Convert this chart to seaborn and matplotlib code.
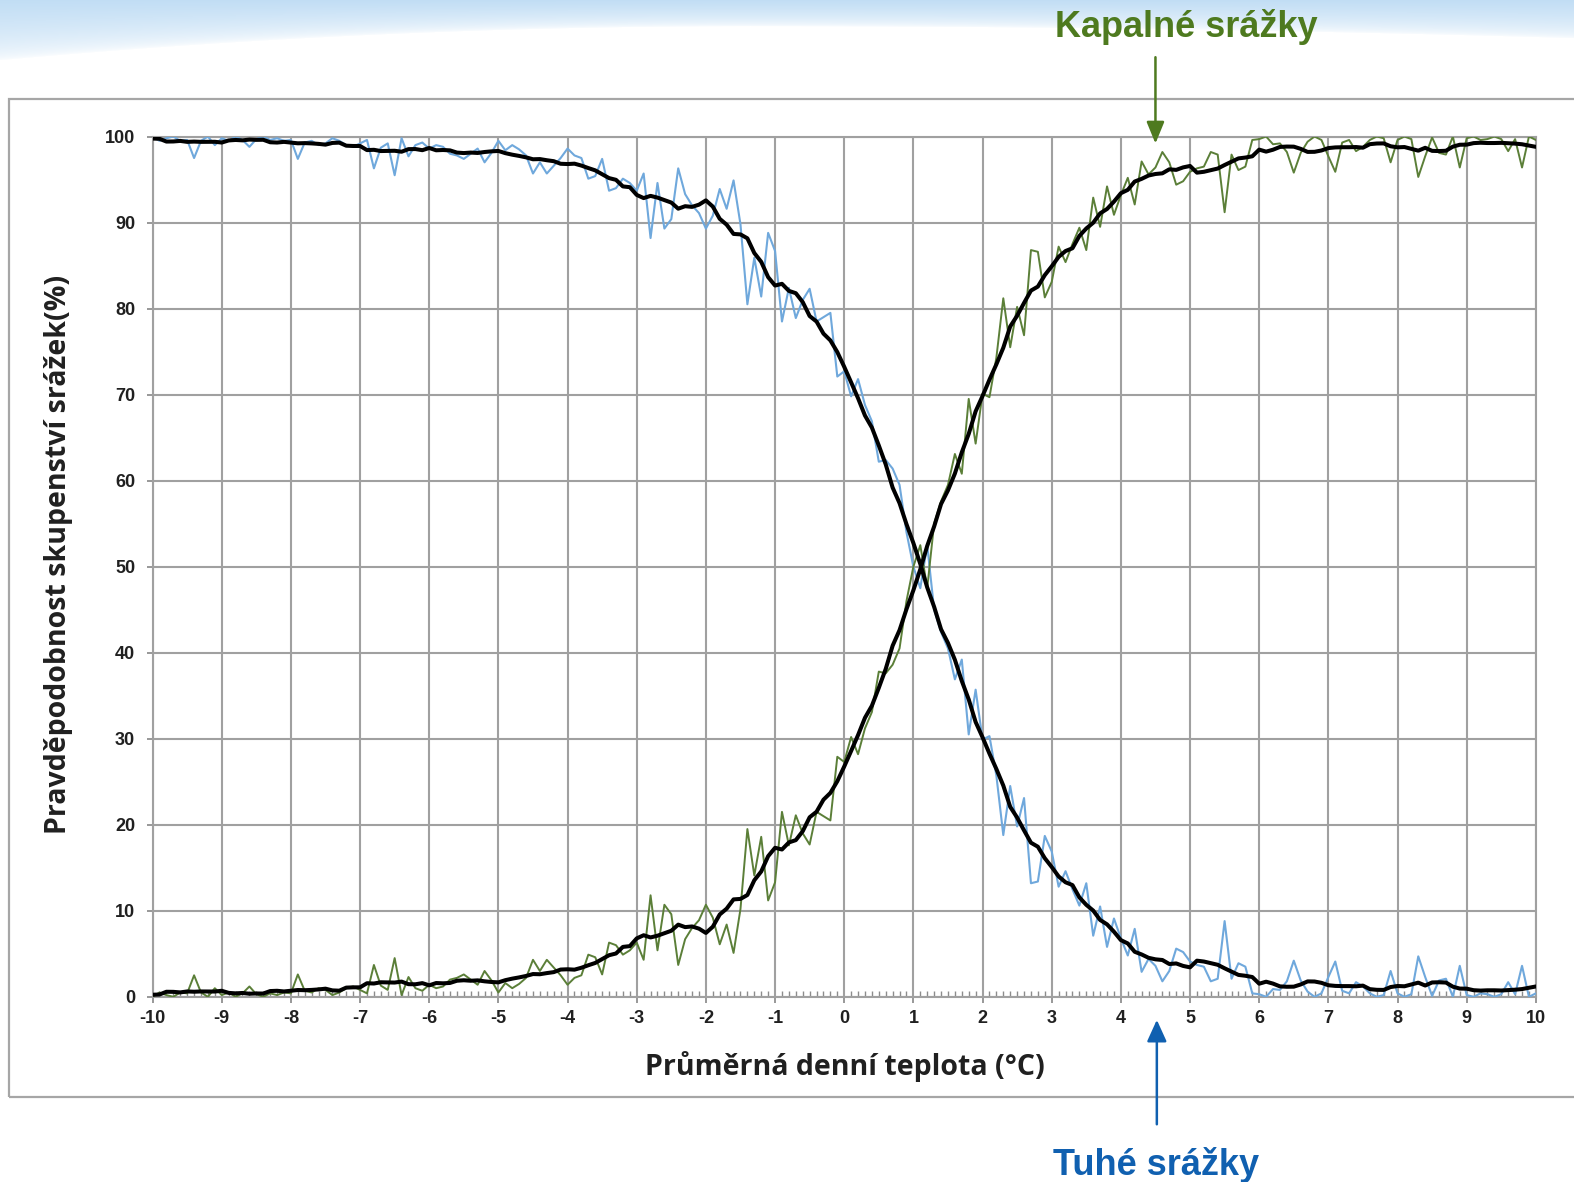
import numpy as np
import pandas as pd
import matplotlib
matplotlib.use('Agg')
import matplotlib.pyplot as plt
import seaborn as sns
from matplotlib.patches import Rectangle
from matplotlib.ticker import MultipleLocator

# teplota po 0.1 °C
teploty = np.round(np.arange(-10, 10.05, 0.1), 1)

# pravdepodobnost tuhych srazek (%)
tuhe = [
    100, 99.5, 99.8, 100, 99.5, 99.6, 97.5, 99.5, 100, 99.0,
    99.8, 99.5, 100, 99.6, 98.8, 99.7, 100, 99.6, 99.8, 99.5,
    99.6, 97.4, 99.3, 99.5, 99.0, 99.2, 99.8, 99.5, 99.0, 98.8,
    99.2, 99.6, 96.3, 98.7, 99.2, 95.5, 99.8, 97.7, 99.0, 99.3,
    98.6, 99.0, 98.8, 98.0, 97.8, 97.4, 98.0, 98.6, 97.0, 98.1,
    99.5, 98.4, 99.0, 98.5, 97.8, 95.7, 97.0, 95.7, 96.6, 97.5,
    98.6, 97.8, 97.5, 95.1, 95.4, 97.4, 93.7, 94.0, 95.1, 94.6,
    93.7, 95.7, 88.2, 94.6, 89.3, 90.4, 96.3, 93.3, 92.0, 91.1,
    89.3, 90.8, 93.9, 91.6, 94.9, 89.8, 80.5, 85.9, 81.4, 88.8,
    86.7, 78.5, 82.4, 78.9, 81.0, 82.3, 78.5, 79.0, 79.5, 72.1,
    72.7, 69.8, 71.8, 68.8, 66.9, 62.2, 62.4, 61.4, 59.5, 54.0,
    50.0, 47.5, 52.5, 45.0, 42.4, 40.5, 36.9, 39.2, 30.5, 35.7,
    29.9, 30.3, 25.7, 18.8, 24.5, 19.8, 23.1, 13.2, 13.4, 18.7,
    16.9, 12.8, 14.6, 12.5, 10.6, 13.2, 7.1, 10.5, 5.8, 9.1,
    6.8, 4.8, 7.9, 2.9, 4.4, 3.6, 1.8, 3.0, 5.6, 5.2,
    4.1, 3.7, 3.5, 1.8, 2.1, 8.8, 2.1, 3.9, 3.5, 0.4,
    0.3, 0.0, 0.9, 0.8, 1.8, 4.2, 1.9, 0.6, 0.0, 0.4,
    2.3, 4.1, 0.7, 0.4, 1.7, 1.2, 0.4, 0.0, 0.2, 3.0,
    0.4, 0.0, 0.3, 4.7, 2.3, 0.1, 1.9, 2.1, 0.0, 3.6,
    0.2, 0.0, 0.4, 0.3, 0.0, 0.3, 1.7, 0.3, 3.6, 0.0,
    0.4,
]
# kapalne srazky jsou doplnek do 100 %
kapalne = [100 - v for v in tuhe]

df = pd.DataFrame({'teplota': teploty, 'tuhe': tuhe, 'kapalne': kapalne})
df['tuhe_prum'] = df['tuhe'].rolling(9, center=True, min_periods=1).mean()
df['kapalne_prum'] = 100 - df['tuhe_prum']

sns.set_theme(style='white')
plt.rcParams['font.family'] = ['Liberation Sans', 'DejaVu Sans']
plt.rcParams['axes.unicode_minus'] = False

W, H = 1574, 1182
S = 1574 / 1568  # merito z nahledu na plnou velikost


def fx(px):
    return px * S / W


def fy(px):
    return 1 - px * S / H


fig = plt.figure(figsize=(W / 100, H / 100), dpi=100)
fig.patch.set_facecolor('white')

# modre pozadi nahore (jako ve slidu)
bg = fig.add_axes([0, 0, 1, 1], zorder=-10)
yy, xx = np.mgrid[0:H, 0:W].astype(float)
hranice = np.where(xx < 750, 26 + 34 * ((750 - xx) / 750) ** 2, 26 + 12 * ((xx - 750) / 824) ** 2)
t = np.clip(1 - yy / hranice, 0, 1) ** 0.55
modra = np.array([0.76, 0.87, 0.96])
img = 1 - t[..., None] * (1 - modra)
bg.imshow(img, aspect='auto', extent=(0, 1, 0, 1), interpolation='bilinear')
bg.set_xlim(0, 1)
bg.set_ylim(0, 1)
bg.axis('off')

fig.add_artist(Rectangle((fx(9), fy(1093)), 1.2, fy(99) - fy(1093),
                         transform=fig.transFigure, fill=False, ec='#a6a6a6', lw=1.6, zorder=-5))

ax = fig.add_axes([fx(152), fy(993), fx(1530) - fx(152), fy(136) - fy(993)])
ax.set_facecolor('white')

sns.lineplot(data=df, x='teplota', y='tuhe', color='#6fa8dc', lw=1.5, ax=ax, zorder=3)
sns.lineplot(data=df, x='teplota', y='kapalne', color='#5b7f38', lw=1.4, ax=ax, zorder=3)
sns.lineplot(data=df, x='teplota', y='tuhe_prum', color='black', lw=2.9, ax=ax, zorder=4)
sns.lineplot(data=df, x='teplota', y='kapalne_prum', color='black', lw=2.9, ax=ax, zorder=4)

sedy = '#a0a0a0'
ax.set_xlim(-10, 10)
ax.set_ylim(0, 100)
ax.xaxis.set_major_locator(MultipleLocator(1))
ax.xaxis.set_minor_locator(MultipleLocator(0.1))
ax.yaxis.set_major_locator(MultipleLocator(10))
ax.grid(True, which='major', color=sedy, lw=1.5)
ax.set_axisbelow(True)
for s in ax.spines.values():
    s.set_color(sedy)
    s.set_linewidth(1.5)

ax.tick_params(axis='x', which='major', direction='out', length=4.5, width=1.3, color='#909090',
               pad=5, labelsize=13, bottom=True)
ax.tick_params(axis='x', which='minor', direction='in', length=4.5, width=1.0, color='#8c8c8c', bottom=True)
ax.tick_params(axis='y', which='major', direction='out', length=4.5, width=1.3, color='#909090',
               pad=8, labelsize=13, left=True)
for lab in ax.get_xticklabels() + ax.get_yticklabels():
    lab.set_fontweight('bold')
    lab.set_color('#202020')

ax.set_xlabel('')
ax.set_ylabel('')
fig.text(fx(842), fy(1062), 'Průměrná denní teplota (°C)', ha='center', va='center',
         fontsize=20.5, fontweight='bold', family=['Open Sans', 'DejaVu Sans'], color='#202020')
fig.text(fx(58), fy(552), 'Pravděpodobnost skupenství srážek(%)', ha='center', va='center',
         rotation=90, fontsize=20.5, fontweight='bold', family=['Open Sans', 'DejaVu Sans'], color='#202020')

zelena = '#4e7a1f'
modra_t = '#1060b0'
fig.text(fx(1182), fy(37), 'Kapalné srážky', ha='center', va='baseline',
         fontsize=26, fontweight='bold', color=zelena)
fig.text(fx(1152), fy(1171), 'Tuhé srážky', ha='center', va='baseline',
         fontsize=26, fontweight='bold', color=modra_t)

ax.annotate('', xy=(4.5, fy(143)), xycoords=('data', 'figure fraction'),
            xytext=(4.5, fy(57)), textcoords=('data', 'figure fraction'),
            arrowprops=dict(arrowstyle='-|>,head_length=1.1,head_width=0.45', color=zelena,
                            lw=1.8, shrinkA=0, shrinkB=0),
            annotation_clip=False, zorder=6)
ax.annotate('', xy=(4.52, fy(1016)), xycoords=('data', 'figure fraction'),
            xytext=(4.52, fy(1120)), textcoords=('data', 'figure fraction'),
            arrowprops=dict(arrowstyle='-|>,head_length=1.1,head_width=0.5', color=modra_t,
                            lw=1.8, shrinkA=0, shrinkB=0),
            annotation_clip=False, zorder=6)

fig.savefig('out.png', dpi=100)
